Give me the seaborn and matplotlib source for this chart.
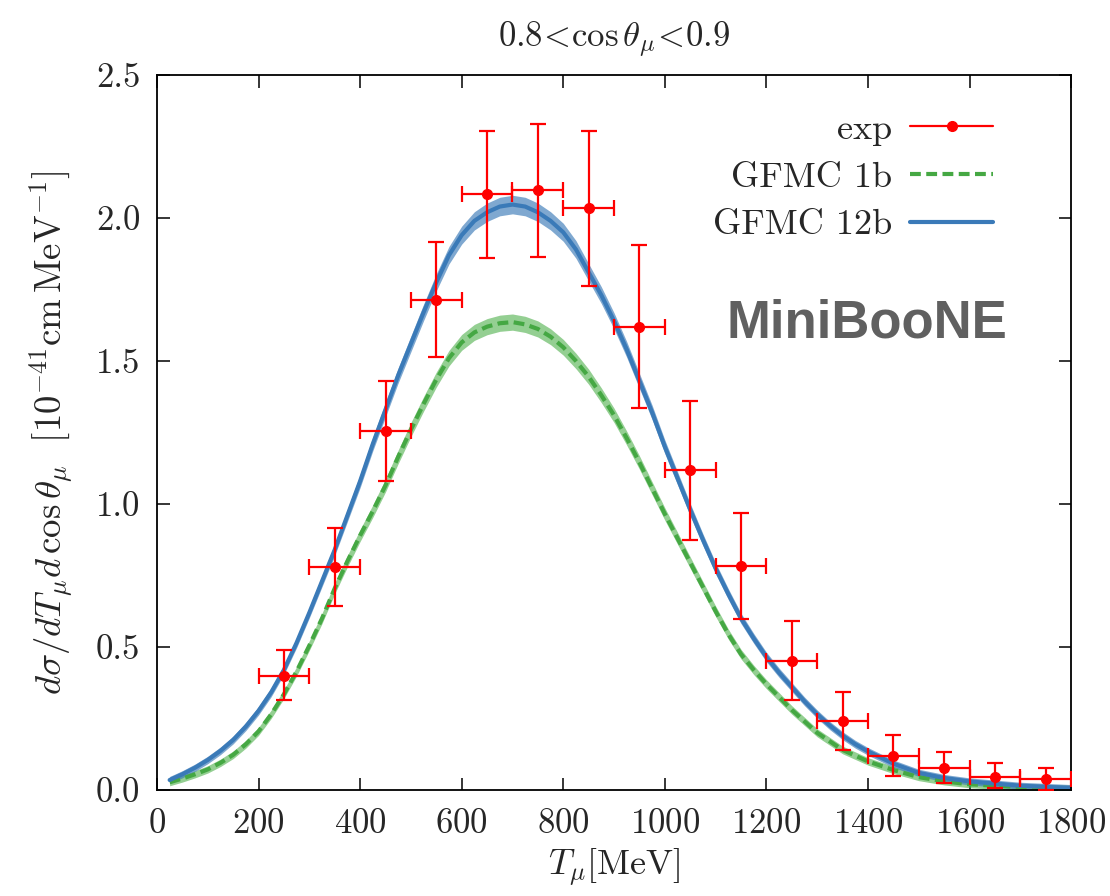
import matplotlib
matplotlib.use("Agg")
import matplotlib.pyplot as plt
import seaborn as sns
import numpy as np
import pandas as pd
from matplotlib.lines import Line2D

# experimental points (MiniBooNE, 0.8 < cos theta < 0.9)
exp_t = [250, 350, 450, 550, 650, 750, 850, 950, 1050, 1150, 1250, 1350, 1450, 1550, 1650, 1750]
exp_y = [0.40, 0.78, 1.255, 1.713, 2.084, 2.098, 2.035, 1.619, 1.119, 0.783, 0.451, 0.241, 0.119, 0.077, 0.045, 0.038]
exp_up = [0.49, 0.916, 1.43, 1.916, 2.304, 2.33, 2.304, 1.906, 1.36, 0.969, 0.59, 0.343, 0.192, 0.133, 0.094, 0.077]
exp_lo = [0.315, 0.643, 1.08, 1.514, 1.86, 1.864, 1.762, 1.336, 0.874, 0.598, 0.315, 0.14, 0.049, 0.024, 0.007, 0.0]
exp_xerr = [50] * 16

# theory curves
th_t = [25, 50, 75, 100, 125, 150, 175, 200, 225, 250, 275, 300, 325, 350, 375, 400, 425, 450,
        475, 500, 525, 550, 575, 600, 625, 650, 675, 700, 725, 750, 775, 800, 825, 850, 875,
        900, 925, 950, 975, 1000, 1025, 1050, 1075, 1100, 1125, 1150, 1175, 1200, 1225, 1250,
        1275, 1300, 1325, 1350, 1375, 1400, 1450, 1500, 1550, 1600, 1700, 1800]
gfmc_12b = [0.035, 0.055, 0.078, 0.105, 0.137, 0.175, 0.222, 0.277, 0.342, 0.42, 0.515, 0.62,
            0.73, 0.84, 0.96, 1.08, 1.21, 1.33, 1.45, 1.56, 1.67, 1.775, 1.87, 1.94, 1.99,
            2.02, 2.04, 2.047, 2.04, 2.02, 1.99, 1.95, 1.89, 1.81, 1.73, 1.64, 1.54, 1.43,
            1.32, 1.20, 1.09, 0.98, 0.875, 0.775, 0.685, 0.60, 0.53, 0.465, 0.41, 0.36, 0.31,
            0.265, 0.225, 0.19, 0.16, 0.135, 0.092, 0.06, 0.042, 0.03, 0.015, 0.007]
gfmc_1b = [0.027, 0.04, 0.055, 0.072, 0.095, 0.123, 0.16, 0.205, 0.265, 0.335, 0.415, 0.505,
           0.60, 0.705, 0.80, 0.89, 0.975, 1.065, 1.165, 1.26, 1.35, 1.435, 1.51, 1.565, 1.60,
           1.62, 1.632, 1.636, 1.628, 1.612, 1.585, 1.548, 1.50, 1.445, 1.38, 1.31, 1.23, 1.145,
           1.055, 0.965, 0.88, 0.795, 0.71, 0.625, 0.545, 0.475, 0.42, 0.37, 0.325, 0.28, 0.24,
           0.20, 0.17, 0.14, 0.12, 0.10, 0.07, 0.045, 0.03, 0.02, 0.01, 0.005]
band_rel = 0.01    # relative half width of the uncertainty band
band_abs = 0.012

blue = "#3a7ab8"
green = "#4daf4a"

sns.set_theme(style="ticks")
plt.rcParams["font.family"] = ["cmr10", "DejaVu Serif"]
plt.rcParams["mathtext.fontset"] = "cm"
plt.rcParams["axes.formatter.use_mathtext"] = True

df = pd.DataFrame({"T": th_t, "12b": gfmc_12b, "1b": gfmc_1b})

fig = plt.figure(figsize=(11.1, 8.96), dpi=100)
ax = fig.add_axes([0.1414, 0.1183, 0.8236, 0.7980])

y12 = np.array(gfmc_12b)
y1 = np.array(gfmc_1b)
ax.fill_between(th_t, y1 * (1 - band_rel) - band_abs, y1 * (1 + band_rel) + band_abs,
                color=green, alpha=0.6, lw=0)
ax.fill_between(th_t, y12 * (1 - band_rel) - band_abs, y12 * (1 + band_rel) + band_abs,
                color=blue, alpha=0.65, lw=0)
sns.lineplot(data=df, x="T", y="1b", ax=ax, color="#45a843", lw=3.0, dashes=(2.6, 1.3))
sns.lineplot(data=df, x="T", y="12b", ax=ax, color=blue, lw=3.0)

yerr = [np.array(exp_y) - np.array(exp_lo), np.array(exp_up) - np.array(exp_y)]
ax.errorbar(exp_t, exp_y, xerr=exp_xerr, yerr=yerr, fmt="o", color="red",
            ms=7, lw=1.6, capsize=6, capthick=1.6, zorder=5)

ax.set_xlim(0, 1800)
ax.set_ylim(0, 2.5)
ax.set_xticks(range(0, 1801, 200))
ax.set_yticks([0.0, 0.5, 1.0, 1.5, 2.0, 2.5])
ax.set_yticklabels(["0.0", "0.5", "1.0", "1.5", "2.0", "2.5"])
ax.tick_params(direction="in", top=True, right=True, length=9, width=1.3,
               labelsize=25)
ax.tick_params(axis="y", pad=12)
ax.tick_params(axis="x", pad=13)
for s in ax.spines.values():
    s.set_linewidth(1.3)
    s.set_color("black")

ax.set_xlabel(r"$T_\mu[\mathrm{MeV}]$", fontsize=26, labelpad=5)
ax.set_ylabel(r"$d\sigma/dT_\mu d\,\cos\theta_\mu\ \ [10^{-41}\mathrm{cm}\,\mathrm{MeV}^{-1}]$",
              fontsize=26.5, labelpad=16)
ax.set_title(r"$0.8\!<\!\cos\theta_\mu\!<\!0.9$", fontsize=25, pad=20)

ax.text(1398, 1.63, "MiniBooNE", fontsize=38, fontweight="bold",
        family="Liberation Sans", color="#606060", ha="center", va="center")

handles = [
    Line2D([], [], color="red", marker="o", ms=7, lw=1.6),
    Line2D([], [], color="#45a843", lw=3.0, dashes=(2.6, 1.3)),
    Line2D([], [], color=blue, lw=3.0),
]
ax.legend(handles, ["exp", "GFMC 1b", "GFMC 12b"], loc="upper right",
          bbox_to_anchor=(0.915, 0.946), frameon=False, markerfirst=False,
          fontsize=26, handlelength=2.3, labelspacing=0.43, borderpad=0,
          borderaxespad=0, handletextpad=0.5)

fig.savefig("out.png", dpi=100)
